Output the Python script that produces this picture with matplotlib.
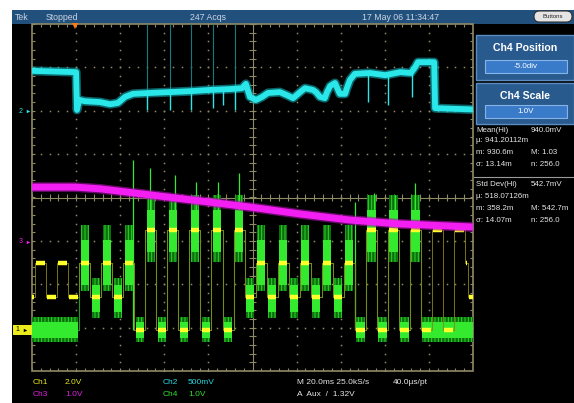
import numpy as np
import matplotlib
matplotlib.use("Agg")
import matplotlib.pyplot as plt
from matplotlib.patches import Rectangle, FancyBboxPatch

plt.rcParams['font.family'] = ['Liberation Sans', 'DejaVu Sans']
plt.rcParams['hatch.linewidth'] = 0.7

# ---------------- data (screen divisions: x 0..10, y -4..4) ----------------
# Ch2 (cyan) trace
ch2_t = [0.00, 1.00, 1.02, 1.07, 1.20, 1.54, 1.77, 1.95, 2.11, 2.29, 2.68, 3.13, 3.58,
         4.04, 4.49, 4.76, 4.85, 4.94, 5.08, 5.22, 5.35, 5.62, 5.78, 5.92, 6.08, 6.19,
         6.37, 6.44, 6.53, 6.64, 6.69, 6.76, 6.87, 6.94, 6.98, 7.10, 7.14, 7.21, 7.32,
         7.66, 8.01, 8.35, 8.59, 8.69, 8.75, 9.12, 9.14, 10.00]
ch2_v = [2.92, 2.89, 2.02, 2.25, 2.22, 2.20, 2.15, 2.18, 2.32, 2.39, 2.41, 2.43, 2.45,
         2.48, 2.50, 2.52, 2.62, 2.32, 2.25, 2.32, 2.41, 2.43, 2.36, 2.29, 2.43, 2.52,
         2.48, 2.43, 2.32, 2.29, 2.43, 2.57, 2.64, 2.48, 2.39, 2.39, 2.52, 2.71, 2.85,
         2.87, 2.82, 2.89, 2.87, 3.01, 3.12, 3.12, 2.06, 2.03]
ch2_spike_t = [2.61, 3.13, 3.60, 4.10, 4.33, 4.60, 7.62, 8.07, 8.62]
ch2_spike_lo = [2.02, 2.02, 2.02, 2.06, 2.13, 2.02, 2.20, 2.13, 2.32]
ch2_spike_hi = [2.41, 2.43, 2.45, 2.48, 2.49, 2.50, 2.87, 2.83, 2.87]
ch2_ghost_t = [2.61, 3.13, 3.60, 4.10, 4.60]

# Ch3 (magenta) trace
ch3_t = [0.00, 0.98, 1.54, 2.68, 3.81, 4.94, 6.08, 7.21, 8.35, 10.00]
ch3_v = [0.24, 0.24, 0.20, 0.06, -0.08, -0.22, -0.38, -0.52, -0.61, -0.68]

# Ch1 (yellow) / Ch4 (green): 4-level symbols on symbol edges
sym_edges = [0.00, 0.07, 0.32, 0.57, 0.82, 1.07, 1.32, 1.57, 1.82, 2.07, 2.32, 2.57,
             2.82, 3.07, 3.32, 3.57, 3.82, 4.07, 4.32, 4.57, 4.82, 5.07, 5.32, 5.57,
             5.82, 6.07, 6.32, 6.57, 6.82, 7.07, 7.32, 7.57, 7.82, 8.07, 8.32, 8.57,
             8.82, 9.07, 9.32, 9.57, 9.82, 9.89, 10.00]
ch1_sym = [1, 2, 1, 2, 1, 2, 1, 2, 1, 2, 0, 3, 0, 3, 0, 3, 0, 3, 0, 3, 1,
           2, 1, 2, 1, 2, 1, 2, 1, 2, 0, 3, 0, 3, 0, 3, 0, 3, 0, 3, 2, 1]
ch4_sym = [0, 0, 0, 0, 0, 2, 1, 2, 1, 2, 0, 3, 0, 3, 0, 3, 0, 3, 0, 3, 1,
           2, 1, 2, 1, 2, 1, 2, 1, 2, 0, 3, 0, 3, 0, 3, 0, 0, 0, 0, 0, 0]
level_div = [-3.05, -2.29, -1.51, -0.75]
ch4_spike_t = [2.29, 2.68, 3.24, 3.72, 4.22, 4.69, 7.32, 7.76, 8.23, 8.68]
ch4_spike_lo = [-3.05, -0.75, -0.75, -0.75, -0.75, -0.75, -3.05, -0.75, -0.75, -0.75]
ch4_spike_hi = [0.86, 0.68, 0.52, 0.36, 0.36, 0.56, -0.10, 0.10, 0.06, 0.33]

# Text
top_labels = ["Tek", "Stopped", "247 Acqs", "17 May 06 11:34:47"]
meas1 = [("Mean(Hi)", "940.0mV"), ("\u00b5: 941.20112m", ""), ("m: 930.6m", "M: 1.03"),
         ("\u03c3: 13.14m", "n: 256.0")]
meas2 = [("Std Dev(Hi)", "542.7mV"), ("\u00b5: 518.07126m", ""), ("m: 358.2m", "M: 542.7m"),
         ("\u03c3: 14.07m", "n: 256.0")]

# ---------------- colours ----------------
CYAN = '#2ae8ea'
MAG = '#f21ef2'
GREEN = '#33ea2e'
YEL = '#ffff2a'
GRAT = '#8f8a66'
BAR = '#22507d'

fig = plt.figure(figsize=(5.74, 4.03), dpi=100, facecolor='white')

# overlay in pixel coordinates
ov = fig.add_axes([0, 0, 1, 1])
ov.set_xlim(0, 574)
ov.set_ylim(403, 0)
ov.axis('off')
ov.set_zorder(0)

ov.add_patch(Rectangle((12, 10), 562, 393, fc='black', ec='none'))
ov.add_patch(Rectangle((12, 10), 562, 13.5, fc=BAR, ec='none'))

tx = [15, 46, 190, 362]
for x, s in zip(tx, top_labels):
    ov.text(x, 17, s, color='#c9d5e2', fontsize=6.3, va='center', ha='left')
ov.add_patch(FancyBboxPatch((534, 11), 38, 11, boxstyle="round,pad=0,rounding_size=5.5",
                            fc='#e4e4e4', ec='#303030', lw=0.8))
ov.text(553, 16.6, "Buttons", fontsize=4.3, color='#222222', ha='center', va='center')

# right panels
for (y0, h, title, by, val) in [(35, 45, "Ch4 Position", 60, "-5.0div"),
                                 (83, 41, "Ch4 Scale", 105, "1.0V")]:
    ov.add_patch(Rectangle((476, y0), 98, h, fc='#285a8e', ec='#5b8cc2', lw=1.0))
    ov.text(525, y0 + 13, title, color='white', fontsize=7.6, fontweight='bold',
            ha='center', va='center')
    ov.add_patch(Rectangle((485, by), 82, 13, fc='#3a7bc9', ec='#86b4e8', lw=0.8))
    ov.text(526, by + 6.6, val, color='white', fontsize=5.8, ha='center', va='center')

ys1 = [130, 141, 153, 165]
for y, (a, b) in zip(ys1, meas1):
    ov.text(476, y, a, color='#e6e6e6', fontsize=5.7, va='center')
    if b:
        ov.text(531, y, b, color='#e6e6e6', fontsize=5.7, va='center')
ov.plot([474, 574], [177, 177], color='#9a9a9a', lw=0.8)
ys2 = [185, 196, 208, 220]
for y, (a, b) in zip(ys2, meas2):
    ov.text(476, y, a, color='#e6e6e6', fontsize=5.7, va='center')
    if b:
        ov.text(531, y, b, color='#e6e6e6', fontsize=5.7, va='center')

# bottom status
bl = [(33, 382, "Ch1", '#e6e620'), (65, 382, "2.0V", '#e6e620'),
      (33, 394, "Ch3", '#e020e0'), (65, 394, "1.0V", '#e020e0'),
      (163, 382, "Ch2", '#28d8e0'), (188, 382, "500mV", '#28d8e0'),
      (163, 394, "Ch4", '#30e030'), (188, 394, "1.0V", '#30e030'),
      (297, 382, "M 20.0ms 25.0kS/s", '#e6e6e6'), (393, 382, "40.0\u00b5s/pt", '#e6e6e6'),
      (297, 394, "A  Aux  /  1.32V", '#e6e6e6')]
for x, y, s, c in bl:
    ov.text(x, y, s, color=c, fontsize=6.0, va='center')

# ---------------- main graticule axes ----------------
ax = fig.add_axes([32 / 574, (403 - 371) / 403, 441 / 574, 347 / 403])
ax.set_zorder(1)
ax.patch.set_alpha(0)
ax.set_xlim(0, 10)
ax.set_ylim(-4, 4)
ax.axis('off')

mx = np.arange(0, 10.001, 0.2)
my = np.arange(-4, 4.001, 0.2)
for gx in range(1, 10):
    if gx != 5:
        ax.plot(np.full_like(my, gx), my, ls='none', marker='s', ms=1.1, mew=0, color=GRAT)
for gy in range(-3, 4):
    if gy != 0:
        ax.plot(mx, np.full_like(mx, gy), ls='none', marker='s', ms=1.1, mew=0, color=GRAT)
ax.axvline(5, color=GRAT, lw=0.8)
ax.axhline(0, color=GRAT, lw=0.8)
ax.vlines(mx, -0.08, 0.08, color=GRAT, lw=0.8)
ax.hlines(my, 4.93, 5.07, color=GRAT, lw=0.8)
ax.vlines(mx, 3.92, 4.0, color=GRAT, lw=0.8)
ax.vlines(mx, -4.0, -3.92, color=GRAT, lw=0.8)
ax.hlines(my, 0, 0.07, color=GRAT, lw=0.8)
ax.hlines(my, 9.93, 10, color=GRAT, lw=0.8)
ax.add_patch(Rectangle((0, -4), 10, 8, fill=False, ec=GRAT, lw=1.2, clip_on=False))


def runs(edges, syms):
    out = []
    start, cur = edges[0], syms[0]
    for i in range(1, len(syms)):
        if syms[i] != cur:
            out.append((start, edges[i], cur))
            start, cur = edges[i], syms[i]
    out.append((start, edges[-1], cur))
    return out


# green bursts (Ch4)
BAND = {0: (-0.19, 0.19, -0.28, 0.30), 1: (-0.35, 0.28, -0.48, 0.44),
        2: (-0.51, 0.53, -0.64, 0.88), 3: (-0.51, 0.46, -0.74, 0.81)}
g_runs = runs(sym_edges, ch4_sym)
gx, gy = [], []
for t0, t1, s in g_runs:
    lv = level_div[s]
    gx += [t0, t1]
    gy += [lv, lv]
ax.plot(gx, gy, color='#1c9c1c', lw=0.8, zorder=2)
for t0, t1, s in g_runs:
    lv = level_div[s]
    a = t0 + (0.03 if t0 > 0 else 0)
    b = t1 - (0.03 if t1 < 10 else 0)
    clo, chi, flo, fhi = BAND[s]
    ax.add_patch(Rectangle((a, lv + flo), b - a, fhi - flo, fc='#0c6e0c', ec='#2ad82a',
                           lw=0, hatch='|||||', zorder=2))
    ax.add_patch(Rectangle((a, lv + clo), b - a, chi - clo, fc=GREEN, ec='none', zorder=3))
ax.vlines(ch4_spike_t, ch4_spike_lo, ch4_spike_hi, color=GREEN, lw=0.9, zorder=3)

# yellow (Ch1)
y_runs = runs(sym_edges, ch1_sym)
yx, yy = [], []
for t0, t1, s in y_runs:
    yx += [t0, t1]
    yy += [level_div[s], level_div[s]]
ax.plot(yx, yy, color='#8a8618', lw=0.6, zorder=4)
for t0, t1, s in y_runs:
    a = t0 + (0.03 if t0 > 0 else 0)
    b = t1 - (0.03 if t1 < 10 else 0)
    ax.plot([a, b], [level_div[s]] * 2, color=YEL, lw=3.2, solid_capstyle='butt', zorder=5)

# magenta (Ch3)
ax.plot(ch3_t, ch3_v, color='#a812a8', lw=7.0, alpha=0.6, zorder=6)
ax.plot(ch3_t, ch3_v, color=MAG, lw=5.0, zorder=6)

# cyan (Ch2)
ax.vlines(ch2_ghost_t, 2.45, 4.0, color='#137a80', lw=0.8, zorder=6)
ax.plot(ch2_t, ch2_v, color='#12a8b0', lw=6.5, alpha=0.6, zorder=7)
ax.plot(ch2_t, ch2_v, color=CYAN, lw=4.2, zorder=7)
ax.vlines(ch2_spike_t, ch2_spike_lo, ch2_spike_hi, color=CYAN, lw=1.0, zorder=7)

# channel ground markers and trigger marker
ax.add_patch(Rectangle((-0.43, -3.16), 0.43, 0.22, fc='#ecec1c', ec='none', clip_on=False))
ax.text(-0.33, -3.05, "1", color='black', fontsize=5, va='center', ha='center', clip_on=False)
ax.plot(-0.15, -3.05, marker='>', ms=2.5, color='black', mew=0, clip_on=False)
ax.text(-0.25, 1.99, "2", color=CYAN, fontsize=5, va='center', ha='center', clip_on=False)
ax.plot(-0.08, 1.99, marker='>', ms=2.5, color=CYAN, mew=0, clip_on=False)
ax.text(-0.25, -1.02, "3", color=MAG, fontsize=5, va='center', ha='center', clip_on=False)
ax.plot(-0.08, -1.02, marker='>', ms=2.5, color=MAG, mew=0, clip_on=False)
ax.plot(0.98, 3.96, marker='v', ms=4, color='#ff7a10', mew=0, clip_on=False, zorder=8)

fig.savefig('out.png', dpi=100, facecolor='white')
